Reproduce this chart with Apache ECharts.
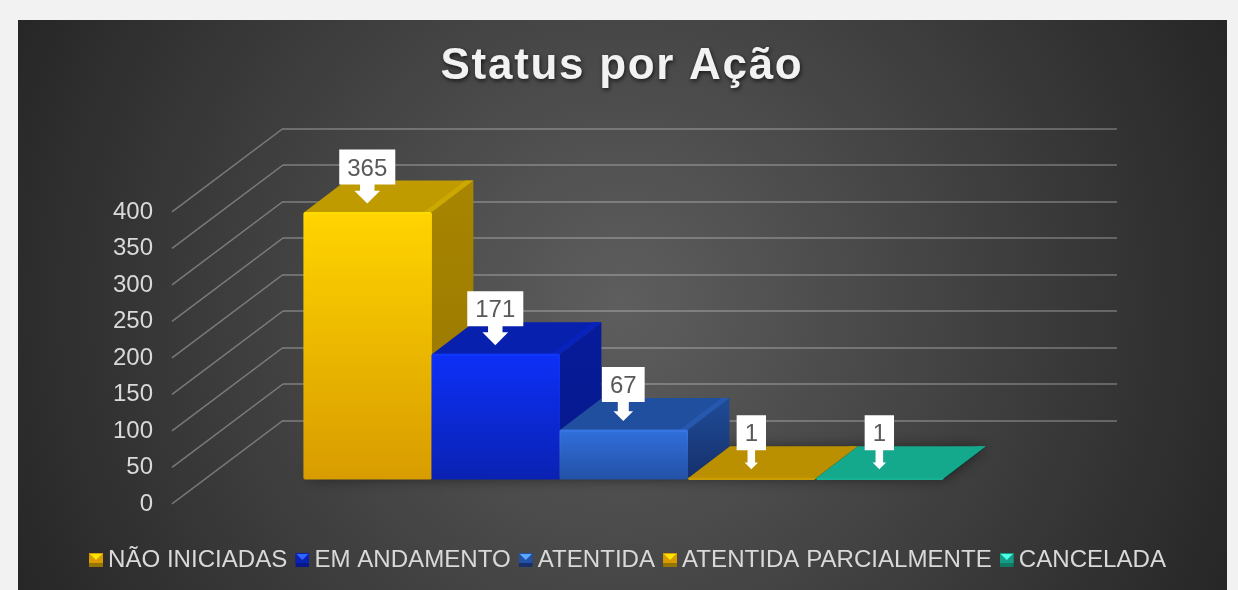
<!DOCTYPE html>
<html>
<head>
<meta charset="utf-8">
<title>Status por Ação</title>
<script src="https://cdn.jsdelivr.net/npm/echarts@6/dist/echarts.min.js"></script>
<style>
    html, body { margin: 0; padding: 0; background: #f2f2f2; }
    #main { width: 1238px; height: 590px; }
</style>
</head>
<body>
<div id="main"></div>
<script>
    var categories = ['Status'];
    var statusNames = ['NÃO INICIADAS', 'EM ANDAMENTO', 'ATENTIDA', 'ATENTIDA PARCIALMENTE', 'CANCELADA'];
    var statusValues = [365, 171, 67, 1, 1];
    var yTicks = [0, 50, 100, 150, 200, 250, 300, 350, 400];

    // cores: frente (topo, base), tampa, lateral (topo, base), brilho, legenda
    var faces = [
        { f0: '#ffd400', f1: '#d89c00', top: '#bf9b00', s0: '#a88600', s1: '#967400', edge: '#ffdc00', band: '#cda800', hi: '#ffe600' },
        { f0: '#0d30f8', f1: '#0a22b2', top: '#0720ae', s0: '#071c9c', s1: '#06188a', edge: '#0f36ff', band: '#0823bd', hi: '#2f66ff' },
        { f0: '#316fdc', f1: '#2351a6', top: '#214f9f', s0: '#1f4c98', s1: '#16306c', edge: '#3a78e4', band: '#2558ae', hi: '#5aa8ff' },
        { f0: '#ffd400', f1: '#d89c00', top: '#bb9000', s0: '#a88600', s1: '#967400', edge: '#c99c00', band: '#bb9000', hi: '#ffe600' },
        { f0: '#1ee0c0', f1: '#159c86', top: '#14a88d', s0: '#128c76', s1: '#0f7a66', edge: '#18b498', band: '#14a88d', hi: '#4dffe6' }
    ];

    var barShare = 0.1535;      // largura da barra em relação à categoria
    var depthX = 42, depthY = -32;
    var wallX = 111, wallY = -83.3;

    function poly(points, fill, extra) {
        return Object.assign({ type: 'polygon', shape: { points: points }, style: { fill: fill } }, extra || {});
    }
    function vgrad(a, b) {
        return { type: 'linear', x: 0, y: 0, x2: 0, y2: 1, colorStops: [{ offset: 0, color: a }, { offset: 1, color: b }] };
    }

    function barGeom(i, value, api) {
        var base = api.coord([0, 0]);
        var top = api.coord([0, value]);
        var w = api.size([1, 0])[0] * barShare;
        var x = base[0] + (i - 2) * w - w / 2;
        return { x: x, w: w, y0: base[1], y1: top[1] };
    }

    function makeBar(i) {
        return function (params, api) {
            var g = barGeom(i, api.value(1), api);
            var c = faces[i];
            var xr = g.x + g.w - 0.6;
            var children = [
                poly([[xr, g.y1], [xr + depthX, g.y1 + depthY], [xr + depthX, g.y0 + depthY], [xr, g.y0]], vgrad(c.s0, c.s1)),
                poly([[g.x, g.y1], [g.x + depthX, g.y1 + depthY], [xr + depthX, g.y1 + depthY], [xr, g.y1]], c.top),
                poly([[xr - 8, g.y1], [xr - 8 + depthX, g.y1 + depthY], [xr + depthX, g.y1 + depthY], [xr, g.y1]], c.band),
                {
                    type: 'rect',
                    shape: { x: g.x, y: g.y1, width: xr - g.x, height: g.y0 - g.y1, r: 1 },
                    style: { fill: vgrad(c.f0, c.f1), stroke: vgrad(c.edge, c.f1), lineWidth: 1 }
                },
                { type: 'line', shape: { x1: g.x + 1, y1: g.y1 + 1, x2: xr - 1, y2: g.y1 + 1 }, style: { stroke: c.edge, lineWidth: 1.5 } }
            ];

            // balão branco com seta para baixo
            var text = String(api.value(1));
            var cx = g.x + g.w / 2 - 0.7;
            var tip = g.y1 - 9;
            var rw = text.length * 13.35 + 16;
            var head = rw * 0.46, shaft = head * 0.56;
            var rt = tip - 54, rb = rt + 35, neck = tip - head / 2;
            children.push(poly([
                [cx - rw / 2, rt], [cx + rw / 2, rt], [cx + rw / 2, rb], [cx + shaft / 2, rb], [cx + shaft / 2, neck],
                [cx + head / 2, neck], [cx, tip], [cx - head / 2, neck], [cx - shaft / 2, neck], [cx - shaft / 2, rb],
                [cx - rw / 2, rb]
            ], '#ffffff'));
            children.push({
                type: 'text',
                style: { x: cx, y: rt + 19.5, text: text, textAlign: 'center', textVerticalAlign: 'middle', fill: '#595959', font: '24px "Liberation Sans"' }
            });
            return { type: 'group', children: children };
        };
    }

    function renderShadow(params, api) {
        var g = barGeom(api.value(2), api.value(1), api);
        return poly([[g.x, g.y0], [g.x + depthX, g.y0 + depthY], [g.x + g.w + depthX, g.y0 + depthY], [g.x + g.w, g.y0]], 'rgba(0,0,0,0.55)', {
            style: { fill: 'rgba(0,0,0,0.6)', shadowBlur: 14, shadowColor: 'rgba(0,0,0,0.85)', shadowOffsetX: 0, shadowOffsetY: 0 }
        });
    }

    function renderWallLine(params, api) {
        var p = api.coord([0, api.value(1)]);
        var left = p[0] - api.size([1, 0])[0] / 2;
        return {
            type: 'line',
            shape: { x1: left, y1: p[1], x2: left - wallX, y2: p[1] - wallY },
            style: { stroke: 'rgba(225,225,225,0.38)', lineWidth: 1.5 }
        };
    }

    function legendIcon(c) {
        var svg = '<svg xmlns="http://www.w3.org/2000/svg" width="14" height="14">' +
            '<rect width="14" height="14" fill="' + c.s1 + '"/>' +
            '<rect width="14" height="10" fill="' + c.f1 + '"/>' +
            '<polygon points="1,1 13,1 7,7" fill="' + c.hi + '"/></svg>';
        return 'image://data:image/svg+xml;charset=utf-8,' + encodeURIComponent(svg);
    }

    var hiddenX = function (idx) {
        return { type: 'category', gridIndex: idx, data: categories, show: false };
    };
    var valueAxis = function (idx, extra) {
        return Object.assign({
            type: 'value', gridIndex: idx, min: 0, max: 400, interval: 50,
            axisLine: { show: false }, axisTick: { show: false }, axisLabel: { show: false }, splitLine: { show: false }
        }, extra || {});
    };

    var series = [
        { type: 'custom', silent: true, xAxisIndex: 1, yAxisIndex: 1, renderItem: renderWallLine, data: yTicks.map(function (v) { return [0, v]; }), z: 1 },
        { type: 'custom', silent: true, xAxisIndex: 2, yAxisIndex: 2, renderItem: renderShadow, data: statusValues.map(function (v, i) { return [0, v, i]; }), z: 2 }
    ];
    statusNames.forEach(function (name, i) {
        series.push({
            type: 'custom', name: name, xAxisIndex: 2, yAxisIndex: 2, z: 3,
            itemStyle: { color: faces[i].f0 },
            renderItem: makeBar(i),
            data: [[0, statusValues[i]]]
        });
    });

    var myChart = echarts.init(document.getElementById('main'));

    // o título tem espaçamento entre letras, que o ECharts não oferece: fica numa camada própria
    myChart.getZr().painter.getLayer(1).ctx.letterSpacing = '1.7px';

    myChart.setOption({
        animation: false,
        textStyle: { fontFamily: '"Liberation Sans"' },
        graphic: [
            {
                type: 'rect', z: -5, silent: true,
                shape: { x: 18, y: 20, width: 1209, height: 570 },
                style: { fill: { type: 'radial', global: true, x: 622, y: 305, r: 660, colorStops: [{ offset: 0, color: '#5e5e5e' }, { offset: 1, color: '#272727' }] } }
            },
            {
                type: 'text', z: 10, zlevel: 1, silent: true, x: 622, y: 67,
                style: {
                    text: 'Status por Ação', textAlign: 'center', textVerticalAlign: 'middle',
                    font: 'bold 44px "Liberation Sans"', fill: '#f2f2f2',
                    textShadowBlur: 4, textShadowColor: 'rgba(0,0,0,0.65)', textShadowOffsetX: 1, textShadowOffsetY: 2
                }
            }
        ],
        legend: {
            left: 84, top: 543, padding: 5, itemWidth: 14, itemHeight: 14, itemGap: 8,
            selectedMode: false,
            textStyle: { color: '#d9d9d9', fontSize: 24.1, fontFamily: '"Liberation Sans"' },
            data: statusNames.map(function (name, i) { return { name: name, icon: legendIcon(faces[i]) }; })
        },
        grid: [
            { left: 172, width: 834, top: 212, height: 292 },   // plano da frente (rótulos)
            { left: 283, width: 834, top: 128.5, height: 292 }, // parede do fundo
            { left: 207, width: 834, top: 187, height: 292 }    // plano das barras
        ],
        xAxis: [hiddenX(0), hiddenX(1), hiddenX(2)],
        yAxis: [
            valueAxis(0, { axisLabel: { show: true, color: '#d9d9d9', fontSize: 24, margin: 19, fontFamily: '"Liberation Sans"' } }),
            valueAxis(1, { splitLine: { show: true, lineStyle: { color: 'rgba(225,225,225,0.38)', width: 1.5 } } }),
            valueAxis(2)
        ],
        series: series
    });
</script>
</body>
</html>
